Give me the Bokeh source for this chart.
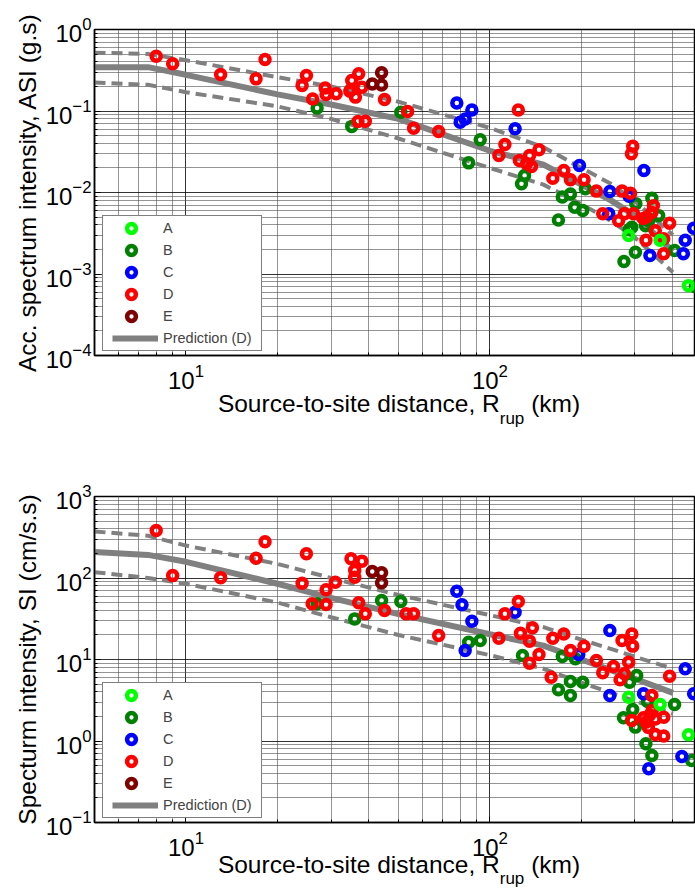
from bokeh.plotting import figure
from bokeh.models import FixedTicker, Legend, LegendItem, Div
from bokeh.layouts import column
from bokeh.embed import file_html
from bokeh.resources import INLINE

FONT = "Liberation Sans"

# ---------------- data ----------------
site_classes = ["A", "B", "C", "D", "E"]
class_colors = ["#00FF00", "#008000", "#0000FF", "#FF0000", "#800000"]

x_ticks = [10, 100]
asi_y_ticks = [1e-4, 1e-3, 1e-2, 1e-1, 1]
si_y_ticks = [1e-1, 1, 10, 100, 1000]

# prediction (site class D): median and +/- one sigma
pred_r = [5, 7.5, 10, 20, 30, 50, 100, 150, 200, 250, 300, 400]
asi_pred_med = [0.345, 0.345, 0.278, 0.160, 0.120, 0.080, 0.0325, 0.022, 0.0125, 0.0080, 0.0052, 0.0019]
asi_pred_hi = [0.52, 0.50, 0.42, 0.26, 0.20, 0.13, 0.062, 0.036, 0.020, 0.0128, 0.0078, 0.0030]
asi_pred_lo = [0.224, 0.21, 0.17, 0.114, 0.080, 0.046, 0.020, 0.0125, 0.0072, 0.0045, 0.0028, 0.00105]
si_pred_med = [208, 192, 158, 85, 57, 36, 20.4, 14.8, 10.0, 7.4, 5.8, 3.9]
si_pred_hi = [372, 330, 250, 149, 100, 62, 35, 25, 17.5, 13.5, 10.8, 7.7]
si_pred_lo = [118, 100, 85, 50, 33, 20, 11.3, 7.7, 5.2, 3.9, 3.1, 2.16]

# ASI records (distance km, ASI g.s)
asi_A_r = [286, 363, 450]
asi_A_v = [0.00297, 0.0026, 0.00072]
asi_B_r = [27.0, 35.1, 50.9, 92.9, 85.1, 130, 127, 173, 184, 190, 202, 168, 206, 302, 341,
           293, 287, 301, 276, 333, 359, 325, 405, 474]
asi_B_v = [0.109, 0.0645, 0.0967, 0.0443, 0.0231, 0.0162, 0.0128, 0.0088, 0.0096, 0.0066, 0.0060,
           0.0046, 0.0111, 0.0073, 0.0085, 0.00375, 0.0035, 0.00185, 0.00142, 0.0045, 0.0052,
           0.0039, 0.00194, 0.00070]
asi_C_r = [77.8, 87.2, 82.9, 79.8, 121, 197, 321, 248, 246, 287, 336, 433, 439, 468]
asi_C_v = [0.125, 0.103, 0.080, 0.073, 0.0605, 0.0214, 0.0186, 0.0103, 0.0055, 0.0090, 0.00169,
           0.00177, 0.0026, 0.00365]
asi_D_r = [7.98, 9.04, 13.0, 17.0, 18.2, 24.9, 24.1, 26.1, 28.7, 28.9, 31.2, 35.1, 34.6, 37.0,
           34.8, 36.1, 37.9, 45.0, 53.6, 36.8, 38.9, 56.1, 67.8, 124, 112, 107, 125, 135, 145,
           137, 132, 161, 175, 184, 204, 295, 292, 224, 272, 290, 235, 265, 277, 297, 345, 341,
           328, 320, 350, 326, 373, 390, 373]
asi_D_v = [0.471, 0.379, 0.280, 0.248, 0.428, 0.273, 0.206, 0.140, 0.192, 0.159, 0.163, 0.237,
           0.175, 0.286, 0.182, 0.148, 0.196, 0.138, 0.0986, 0.0743, 0.075, 0.0615, 0.056, 0.103,
           0.0388, 0.0284, 0.0247, 0.0284, 0.0334, 0.0208, 0.0225, 0.0150, 0.0186, 0.0143,
           0.0143, 0.037, 0.0298, 0.0104, 0.0104, 0.0098, 0.0055, 0.0045, 0.0055, 0.0055,
           0.0069, 0.0057, 0.0050, 0.0048, 0.0034, 0.0026, 0.00177, 0.0042, 0.0027]
asi_E_r = [44.0, 41.0, 44.0]
asi_E_v = [0.294, 0.215, 0.209]

# SI records (distance km, SI cm/s.s)
si_A_r = [286, 363, 450]
si_A_v = [3.45, 2.81, 1.19]
si_B_r = [27.0, 35.9, 44.0, 50.9, 85.1, 92.9, 128, 173, 191, 184, 168, 184, 202, 304, 288,
          330, 295, 275, 301, 326, 341, 405, 461]
si_B_v = [48.2, 31.5, 53.0, 51.5, 16.3, 17.1, 11.2, 10.9, 10.2, 5.37, 4.25, 3.61, 5.26, 6.37,
          5.26, 3.05, 2.44, 1.93, 1.48, 0.925, 0.664, 2.81, 0.577]
si_C_r = [77.8, 80.9, 87.2, 82.9, 121, 248, 196, 248, 320, 333, 428, 439, 468]
si_C_v = [68.9, 46.9, 29.5, 12.9, 38.1, 22.7, 11.5, 3.61, 3.79, 0.456, 0.645, 7.7, 3.79]
si_D_r = [7.98, 9.04, 13.0, 17.0, 18.2, 24.9, 24.1, 26.0, 28.9, 28.9, 31.0, 34.9, 37.9, 35.9,
          35.9, 37.0, 38.9, 45.0, 53.0, 56.1, 67.8, 107, 112, 124, 126, 135, 138, 161, 175,
          184, 204, 272, 293, 295, 145, 135, 159, 224, 235, 255, 268, 277, 286, 390, 341, 320,
          336, 350, 373, 373, 326, 332, 350, 293, 342]
si_D_v = [383, 107, 101, 175, 278, 198, 86.3, 48.2, 47.3, 71.6, 88.7, 172, 161, 124, 102, 49.6,
          36.3, 39.9, 36.3, 36.3, 19.7, 18.2, 36.3, 51.5, 21.0, 16.8, 24.5, 18.2, 20.6, 12.9,
          14.5, 17.1, 20.6, 14.6, 11.5, 9.0, 6.07, 9.73, 6.87, 8.2, 5.64, 6.68, 9.27, 6.24,
          3.61, 1.93, 2.1, 1.86, 1.96, 1.15, 1.7, 1.47, 1.2, 1.79, 2.36]
si_E_r = [41.0, 44.0, 44.0]
si_E_v = [120, 116, 87.3]

asi_data = {"A": (asi_A_r, asi_A_v), "B": (asi_B_r, asi_B_v), "C": (asi_C_r, asi_C_v),
            "D": (asi_D_r, asi_D_v), "E": (asi_E_r, asi_E_v)}
si_data = {"A": (si_A_r, si_A_v), "B": (si_B_r, si_B_v), "C": (si_C_r, si_C_v),
           "D": (si_D_r, si_D_v), "E": (si_E_r, si_E_v)}

draw_order = ["B", "C", "D", "E", "A"]
x_label_main = "Source-to-site distance, R"
x_label_sub = "rup"
x_label_unit = "(km)"


def decade_minors(lo_exp, hi_exp):
    return [m * 10.0 ** e for e in range(lo_exp, hi_exp) for m in range(2, 10)]


def make_panel(height, b_top, b_bottom, y_lo_exp, y_hi_exp, y_ticks, ylabel, data,
               med, hi, lo):
    p = figure(width=695, height=height, x_axis_type="log", y_axis_type="log",
               x_range=(5, 471), y_range=(10.0 ** y_lo_exp, 10.0 ** y_hi_exp),
               output_backend="svg", toolbar_location=None,
               min_border_left=94, min_border_right=1,
               min_border_top=b_top, min_border_bottom=b_bottom)
    p.outline_line_color = "black"
    p.outline_line_width = 1.5
    p.background_fill_color = "white"

    xt = FixedTicker(ticks=x_ticks, minor_ticks=decade_minors(0, 3))
    yt = FixedTicker(ticks=y_ticks, minor_ticks=decade_minors(y_lo_exp, y_hi_exp))
    p.xaxis.ticker = xt
    p.yaxis.ticker = yt
    p.xgrid.ticker = xt
    p.ygrid.ticker = yt
    for g in (p.xgrid, p.ygrid):
        g.grid_line_color = "black"
        g.grid_line_alpha = 0.8
        g.grid_line_width = 1
        g.minor_grid_line_color = "#4d4d4d"
        g.minor_grid_line_alpha = 0.6
        g.minor_grid_line_width = 1

    for ax in (p.xaxis[0], p.yaxis[0]):
        ax.major_tick_in = 6
        ax.major_tick_out = 0
        ax.minor_tick_in = 3
        ax.minor_tick_out = 0
        ax.axis_line_width = 1.5
        ax.major_label_text_font = FONT
        ax.major_label_text_font_size = "24px"
        ax.major_label_text_color = "black"
    p.xaxis.major_label_standoff = 8
    p.yaxis.major_label_standoff = 3
    p.yaxis.axis_label = ylabel
    p.yaxis.axis_label_text_font = FONT
    p.yaxis.axis_label_text_font_size = "24.5px"
    p.yaxis.axis_label_text_font_style = "normal"
    p.yaxis.axis_label_text_color = "black"
    p.yaxis.axis_label_standoff = 2

    # prediction lines
    p.line(pred_r, hi, line_color="#808080", line_width=4, line_dash="11 6")
    p.line(pred_r, lo, line_color="#808080", line_width=4, line_dash="11 6")
    p.line(pred_r, med, line_color="#808080", line_width=6)

    rends = {}
    for cls in draw_order:
        r, v = data[cls]
        col = class_colors[site_classes.index(cls)]
        rends[cls] = p.scatter(r, v, marker="circle", size=9, line_color=col,
                               line_width=4.5, fill_alpha=0)

    # legend sample for the prediction: a renderer with one undefined point,
    # styled like the median line, whose dash pattern insets the sample line
    leg_line = p.line(x=[pred_r[0]], y=[float("nan")], line_color="#808080",
                      line_width=6, line_dash="0 8 46 1000")

    items = [LegendItem(label=c, renderers=[rends[c]]) for c in site_classes]
    items.append(LegendItem(label="Prediction (D)", renderers=[leg_line]))
    leg = Legend(items=items, location=(8, 4), padding=1, spacing=0,
                 glyph_width=54, glyph_height=22, label_height=22, label_width=97,
                 label_standoff=5, label_text_font=FONT, label_text_font_size="14.5px",
                 border_line_color="black", border_line_width=1.5,
                 background_fill_color="white", background_fill_alpha=1.0, margin=0)
    p.add_layout(leg, "center")
    return p


def x_label_div(height, top_shift, sub_drop):
    html = (
        f'<div style="position:relative; left:94px; top:{top_shift}px; width:600px; '
        f'text-align:center; white-space:nowrap; font-family:\'{FONT}\'; '
        f'font-size:24.5px; line-height:24.5px; color:#000;">'
        f'{x_label_main}<span style="font-size:17px; line-height:17px; position:relative; '
        f'top:{sub_drop}px;">{x_label_sub}</span> {x_label_unit}</div>'
    )
    return Div(text=html, width=695, height=height, styles={"overflow": "visible"})


p1 = make_panel(397, 29, 42, -4, 0, asi_y_ticks, "Acc. spectrum intensity, ASI (g.s)",
                asi_data, asi_pred_med, asi_pred_hi, asi_pred_lo)
d1 = x_label_div(48, -10, 12)
p2 = make_panel(407, 41, 40, -1, 3, si_y_ticks, "Specturm intensity, SI (cm/s.s)",
                si_data, si_pred_med, si_pred_hi, si_pred_lo)
d2 = x_label_div(37, -14, 11)

layout = column(p1, d1, p2, d2, spacing=0)
open("out.html", "w").write(file_html(layout, INLINE))
